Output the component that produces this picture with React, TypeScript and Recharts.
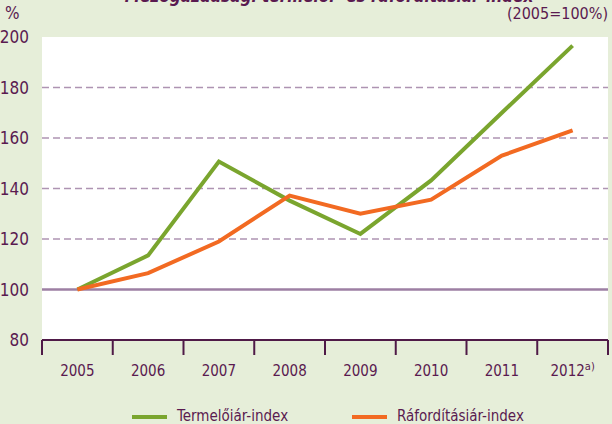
import { LineChart, Line, XAxis, YAxis, CartesianGrid, ReferenceLine } from 'recharts';

// ---------------------------------------------------------------------------
// Data
// ---------------------------------------------------------------------------

const years = ['2005', '2006', '2007', '2008', '2009', '2010', '2011', '2012'];
const termeloiar = [100, 113.5, 150.7, 135.2, 122, 143.2, 170, 196.6];
const raforditasiar = [100, 106.5, 119, 137.2, 130, 135.6, 153, 163];
const yTicks = [80, 100, 120, 140, 160, 180, 200];
const gridValues = [120, 140, 160, 180];

const seriesNames = ['Termelőiár-index', 'Ráfordításiár-index'];
const title = 'Mezőgazdasági termelői- és ráfordításiár-index';

const data = years.map((y, i) => ({ year: y, termelo: termeloiar[i], raford: raforditasiar[i] }));

// ---------------------------------------------------------------------------
// Style
// ---------------------------------------------------------------------------

const W = 612;
const H = 424;
const LEFT = 42;
const RIGHT = 4;
const X_AXIS_H = 30;
const HALF_BAND = (W - LEFT - RIGHT) / years.length / 2;

const BG = '#e6eed9';
const TEXT = '#5a1a50';
const AXIS = '#4f1a47';
const GREEN = '#7aa52e';
const ORANGE = '#f26a22';
const FONT = '"Liberation Sans Narrow", "DejaVu Sans Condensed", "Noto Sans", sans-serif';

function XTick({ x, y, payload, index }: any) {
  const last = index === years.length - 1;
  return (
    <g>
      <line x1={x - HALF_BAND} x2={x - HALF_BAND} y1={y} y2={y + 15} stroke={AXIS} strokeWidth={2} />
      {last && <line x1={x + HALF_BAND} x2={x + HALF_BAND} y1={y} y2={y + 15} stroke={AXIS} strokeWidth={2} />}
      <text x={x} y={y + 31} textAnchor="middle" dominantBaseline="central" fill={TEXT} fontSize={15} fontFamily={FONT}>
        {payload.value}
        {last && <tspan fontSize={11} dy={-5}>a)</tspan>}
      </text>
    </g>
  );
}

function ChartLegend() {
  const colors = [GREEN, ORANGE];
  return (
    <div
      style={{
        position: 'absolute', left: 132, top: 405, display: 'flex', fontFamily: FONT, fontSize: 15,
        color: TEXT, lineHeight: '22px',
      }}
    >
      {seriesNames.map((n, i) => (
        <div key={n} style={{ display: 'flex', alignItems: 'center', width: 220 }}>
          <span style={{ display: 'inline-block', width: 35, height: 4, background: colors[i], marginRight: 10, marginTop: 2 }} />
          <span>{n}</span>
        </div>
      ))}
    </div>
  );
}

export default function App() {
  return (
    <div style={{ position: 'absolute', left: 0, top: 0, width: W, height: H, background: BG, overflow: 'hidden' }}>
      <div
        style={{
          position: 'absolute', left: 0, width: W, top: -14, textAlign: 'center', paddingLeft: 46,
          boxSizing: 'border-box', fontFamily: FONT, fontSize: 17, fontWeight: 'bold', fontStyle: 'italic', color: TEXT,
          lineHeight: '20px',
        }}
      >
        {title}
      </div>
      <div style={{ position: 'absolute', left: 5, top: 3, fontFamily: FONT, fontSize: 17, color: TEXT, lineHeight: '20px' }}>%</div>
      <div style={{ position: 'absolute', right: 4, top: 4, fontFamily: FONT, fontSize: 16, color: TEXT, lineHeight: '20px' }}>
        (2005=100%)
      </div>
      <LineChart width={W} height={H} data={data} margin={{ top: 37, right: RIGHT, bottom: 84 - X_AXIS_H, left: 0 }}>
        <CartesianGrid
          fill="#ffffff"
          vertical={false}
          horizontalValues={gridValues}
          stroke="#ae94b2"
          strokeWidth={1.5}
          strokeDasharray="7 4"
        />
        <XAxis
          dataKey="year"
          height={X_AXIS_H}
          padding={{ left: HALF_BAND, right: HALF_BAND }}
          axisLine={{ stroke: AXIS, strokeWidth: 2 }}
          tickLine={false}
          tickSize={0}
          tickMargin={0}
          tick={<XTick />}
          interval={0}
        />
        <YAxis
          width={LEFT}
          domain={[80, 200]}
          ticks={yTicks}
          axisLine={false}
          tickLine={false}
          tickSize={0}
          tickMargin={13}
          tick={{ fill: TEXT, fontSize: 17, fontFamily: FONT }}
        />
        <ReferenceLine y={100} stroke="#9d7fa3" strokeWidth={2.5} />
        <Line
          type="linear"
          dataKey="termelo"
          name={seriesNames[0]}
          stroke={GREEN}
          strokeWidth={4}
          dot={false}
          isAnimationActive={false}
        />
        <Line
          type="linear"
          dataKey="raford"
          name={seriesNames[1]}
          stroke={ORANGE}
          strokeWidth={4}
          dot={false}
          isAnimationActive={false}
        />
      </LineChart>
      <ChartLegend />
    </div>
  );
}
